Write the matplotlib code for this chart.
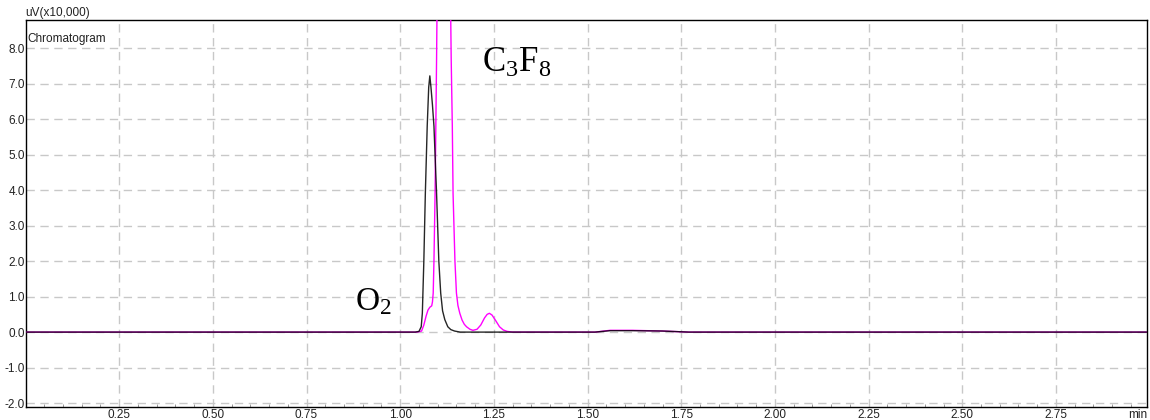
import matplotlib
matplotlib.use("Agg")
import matplotlib.pyplot as plt
from matplotlib.ticker import MultipleLocator, FixedLocator

plt.rcParams["font.family"] = ["Liberation Sans", "DejaVu Sans"]
plt.rcParams["mathtext.fontset"] = "custom"
plt.rcParams["mathtext.rm"] = "Liberation Serif"

# black trace (O2 run), time in min, signal in uV x10,000
black_t = [0.0, 1.040, 1.050, 1.056, 1.059, 1.063, 1.067, 1.072, 1.076, 1.079,
           1.082, 1.086, 1.090, 1.097, 1.103, 1.108, 1.113, 1.119, 1.127, 1.135,
           1.145, 1.160, 1.520, 1.560, 1.620, 1.700, 1.770, 3.0]
black_v = [0.0, 0.0, 0.02, 0.15, 0.53, 2.0, 3.9, 5.8, 6.9, 7.22,
           6.9, 6.4, 5.8, 3.9, 2.0, 1.1, 0.6, 0.35, 0.15, 0.07,
           0.03, 0.0, 0.0, 0.04, 0.04, 0.03, 0.0, 0.0]

# magenta trace (C3F8 run); main peak runs off scale
mag_t = [0.0, 1.045, 1.057, 1.063, 1.069, 1.074, 1.079, 1.084, 1.086, 1.088,
         1.090, 1.093, 1.095, 1.097, 1.099, 1.104, 1.110, 1.116, 1.122, 1.128,
         1.133, 1.136, 1.139, 1.141, 1.146, 1.150, 1.154, 1.159, 1.165, 1.171,
         1.177, 1.186, 1.194, 1.205, 1.215, 1.225, 1.232, 1.238, 1.245, 1.255,
         1.265, 1.275, 1.285, 1.300, 1.520, 1.560, 1.620, 1.700, 1.770, 3.0]
mag_v = [0.0, 0.0, 0.03, 0.2, 0.45, 0.62, 0.7, 0.74, 0.85, 1.1,
         2.0, 3.9, 5.8, 7.7, 10.0, 20.0, 30.0, 34.0, 30.0, 18.0,
         10.5, 7.7, 5.8, 3.9, 2.0, 1.1, 0.75, 0.53, 0.34, 0.22,
         0.15, 0.08, 0.05, 0.08, 0.2, 0.4, 0.5, 0.53, 0.48, 0.32,
         0.15, 0.06, 0.02, 0.0, 0.0, 0.05, 0.05, 0.03, 0.0, 0.0]

x_ticks = [0.25, 0.50, 0.75, 1.00, 1.25, 1.50, 1.75, 2.00, 2.25, 2.50, 2.75]
y_ticks = [-2.0, -1.0, 0.0, 1.0, 2.0, 3.0, 4.0, 5.0, 6.0, 7.0, 8.0]

fig = plt.figure(figsize=(11.5, 4.2), dpi=100)
ax = fig.add_axes([0.0222, 0.031, 0.9752, 0.921])

ax.plot(mag_t, mag_v, color="#ff00ff", lw=1.0, zorder=3)
ax.plot(black_t, black_v, color="#000000", lw=1.0, alpha=0.85, zorder=4)

ax.set_xlim(0.0, 2.993)
ax.set_ylim(-2.11, 8.79)

ax.xaxis.set_major_locator(FixedLocator(x_ticks))
ax.yaxis.set_major_locator(FixedLocator(y_ticks))
ax.set_xticklabels([f"{v:.2f}" for v in x_ticks])
ax.set_yticklabels([f"{v:.1f}" for v in y_ticks])
ax.xaxis.set_minor_locator(MultipleLocator(0.05))
ax.tick_params(axis="both", which="major", length=0, labelsize=8.5, colors="#222222")
ax.tick_params(axis="x", which="major", pad=1.5)
ax.tick_params(axis="y", which="major", pad=0.5)
ax.tick_params(axis="x", which="minor", direction="in", length=2, color="#888888")

ax.grid(True, which="major", color="#c8c8c8", lw=1.0, linestyle=(0, (6, 4)))
ax.set_axisbelow(True)
for s in ax.spines.values():
    s.set_color("#000000")
    s.set_linewidth(1.0)

fig.text(0.0222, 0.955, "uV(x10,000)", fontsize=8.5, ha="left", va="bottom", color="#222222")
ax.text(0.002, 0.952, "Chromatogram", transform=ax.transAxes, fontsize=8.5,
        ha="left", va="center", color="#222222")
ax.text(1.0, -0.005, "min", transform=ax.transAxes, fontsize=8.5,
        ha="right", va="top", color="#222222")

ax.text(1.218, 7.32, r"$\mathrm{C_3F_8}$", fontsize=25, ha="left", va="baseline", color="#000000")
ax.text(0.879, 0.62, r"$\mathrm{O_2}$", fontsize=24, ha="left", va="baseline", color="#000000")

fig.savefig("out.png", dpi=100)
